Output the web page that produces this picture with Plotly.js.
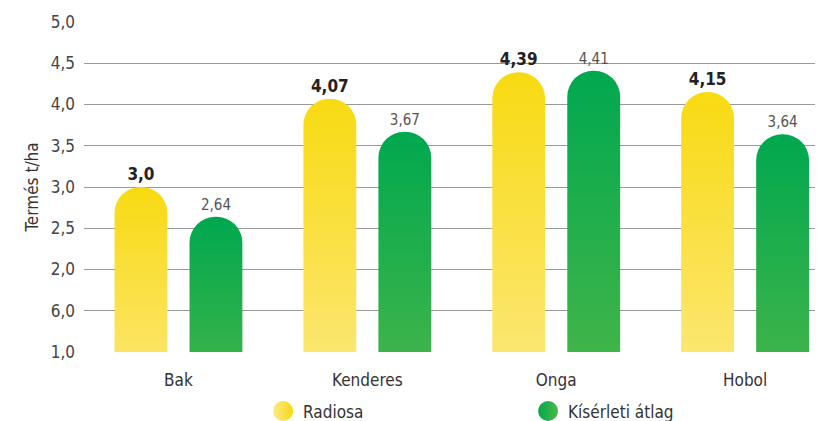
<!DOCTYPE html>
<html>
<head>
<meta charset="utf-8">
<script src="https://cdn.plot.ly/plotly-3.0.1.min.js"></script>
<style>
  html, body { margin: 0; padding: 0; background: #fff; }
  #chart { width: 821px; height: 421px; }
</style>
</head>
<body>
<div id="chart"></div>
<script>
const categories = ['Bak', 'Kenderes', 'Onga', 'Hobol'];
const radiosa = [3.0, 4.07, 4.39, 4.15];
const radiosaLabels = ['3,0', '4,07', '4,39', '4,15'];
const atlag = [2.64, 3.67, 4.41, 3.64];
const atlagLabels = ['2,64', '3,67', '4,41', '3,64'];
const tickVals = [1, 1.5, 2, 2.5, 3, 3.5, 4, 4.5, 5];
const tickText = ['1,0', '6,0', '2,0', '2,5', '3,0', '3,5', '4,0', '4,5', '5,0'];
const seriesNames = ['Radiosa', 'Kísérleti átlag'];

const FONT = '"DejaVu Sans Condensed", "Liberation Sans Narrow", sans-serif';

const traces = [
  {
    type: 'bar', x: categories, y: radiosa, name: seriesNames[0],
    text: radiosaLabels, textposition: 'outside', cliponaxis: false,
    textfont: { family: FONT, size: 17, color: '#222', weight: 'bold' },
    marker: { color: '#F8DC1A', cornerradius: '50%' },
    showlegend: false, hoverinfo: 'skip'
  },
  {
    type: 'bar', x: categories, y: atlag, name: seriesNames[1],
    text: atlagLabels, textposition: 'outside', cliponaxis: false,
    textfont: { family: FONT, size: 15, color: '#555' },
    marker: { color: '#00A84F', cornerradius: '50%' },
    showlegend: false, hoverinfo: 'skip'
  },
  {
    type: 'scatter', mode: 'markers', x: [null], y: [null], name: seriesNames[0],
    marker: { symbol: 'circle', size: 20, color: '#F8DC1A' }, showlegend: true
  },
  {
    type: 'scatter', mode: 'markers', x: [null], y: [null], name: seriesNames[1],
    marker: { symbol: 'circle', size: 20, color: '#00A84F' }, showlegend: true
  }
];

const layout = {
  width: 821, height: 421,
  margin: { l: 84, r: 6, t: 22, b: 69, autoexpand: false },
  paper_bgcolor: '#fff', plot_bgcolor: '#fff',
  font: { family: FONT, size: 16, color: '#444' },
  barmode: 'group', bargap: 0.206, bargroupgap: 0.295,
  xaxis: {
    type: 'category', range: [-0.5, 3.37],
    showgrid: false, zeroline: false, showline: false, ticks: '', ticklabelstandoff: 16,
    tickfont: { family: FONT, size: 17, color: '#333' }
  },
  yaxis: {
    range: [1, 5], tickvals: tickVals, ticktext: tickText,
    showgrid: true, gridcolor: '#9a9a9a', gridwidth: 1,
    zeroline: false, showline: false, ticks: '', ticklabelstandoff: 8,
    tickfont: { family: FONT, size: 17, color: '#444' },
    title: { text: 'Termés t/ha', font: { family: FONT, size: 17, color: '#333' }, standoff: 7 }
  },
  showlegend: true,
  legend: {
    orientation: 'h', x: 0.245, xanchor: 'left', y: -0.18, yanchor: 'middle',
    font: { family: FONT, size: 17, color: '#333' },
    entrywidth: 220, entrywidthmode: 'pixels', itemsizing: 'trace', bgcolor: 'rgba(0,0,0,0)'
  }
};

function addGradients(gd) {
  const svg = gd.querySelector('svg.main-svg');
  const NS = 'http://www.w3.org/2000/svg';
  let defs = svg.querySelector('defs');
  if (!defs) { defs = document.createElementNS(NS, 'defs'); svg.insertBefore(defs, svg.firstChild); }
  const grads = [
    { id: 'gradY', x2: '0', y2: '1', stops: ['#F8DA12', '#FDEA8C'] },
    { id: 'gradG', x2: '0', y2: '1', stops: ['#00A84F', '#52B848'] },
    { id: 'gradYh', x2: '1', y2: '0', stops: ['#FDE98A', '#F8D80E'] },
    { id: 'gradGh', x2: '1', y2: '0', stops: ['#00A84F', '#4DB848'] }
  ];
  grads.forEach(g => {
    const lg = document.createElementNS(NS, 'linearGradient');
    lg.setAttribute('id', g.id);
    lg.setAttribute('x1', '0'); lg.setAttribute('y1', '0');
    lg.setAttribute('x2', g.x2); lg.setAttribute('y2', g.y2);
    g.stops.forEach((c, i) => {
      const s = document.createElementNS(NS, 'stop');
      s.setAttribute('offset', i === 0 ? '0' : '1');
      s.setAttribute('stop-color', c);
      lg.appendChild(s);
    });
    defs.appendChild(lg);
  });
  const barTraces = gd.querySelectorAll('.barlayer .trace');
  barTraces.forEach((t, i) => {
    t.querySelectorAll('.point path').forEach(p => {
      p.style.fill = i === 0 ? 'url(#gradY)' : 'url(#gradG)';
    });
  });
  const legTraces = gd.querySelectorAll('.legend .traces');
  legTraces.forEach((t, i) => {
    t.querySelectorAll('.legendpoints path').forEach(p => {
      p.style.fill = i === 0 ? 'url(#gradYh)' : 'url(#gradGh)';
      p.style.stroke = 'none';
      const tr = p.getAttribute('transform') || '';
      p.setAttribute('transform', tr + ' scale(1.25)');
    });
  });
}

Plotly.newPlot('chart', traces, layout, { staticPlot: true, displayModeBar: false })
  .then(gd => addGradients(gd));
</script>
</body>
</html>
